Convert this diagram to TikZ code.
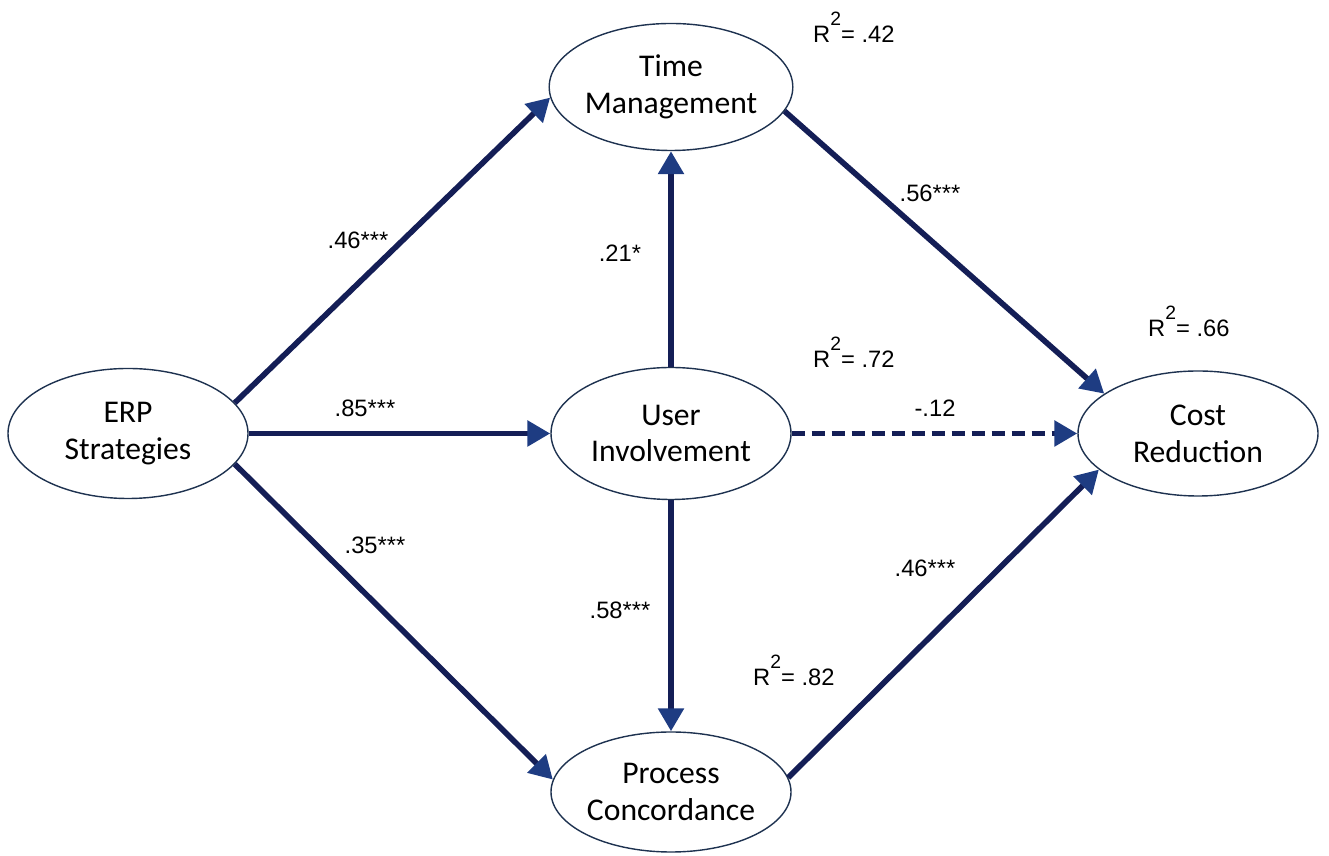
\documentclass[tikz,border=0pt]{standalone}
\usepackage{fontspec}
\setmainfont{Carlito}
\newfontfamily\etiq{Liberation Sans}
\usetikzlibrary{shapes.geometric,arrows.meta}

\definecolor{azul}{RGB}{20,30,86}
\definecolor{punta}{RGB}{30,60,130}
\definecolor{borde}{RGB}{30,50,80}

\newcommand{\Rdos}[1]{R\raisebox{0.72em}{\fontsize{11}{11}\selectfont 2}= #1}

\tikzstyle{constructo}= [ellipse,draw=borde,line width=0.8pt,minimum width=4.8cm,minimum height=2.6cm,inner sep=0pt,align=center,font=\fontsize{18}{21}\selectfont]
\tikzstyle{flecha}= [azul,line width=3.2pt,-{Triangle[length=0.46cm,width=0.5cm,color=punta]}]
\tikzstyle{coef}= [font=\etiq\fontsize{13.5}{16}\selectfont]

\begin{document}
\begin{tikzpicture}

		\useasboundingbox (0,0) rectangle (26.58,17.12);

		\node (a) at (2.56,8.45) [constructo] {ERP\\Strategies};
		\node (b) at (13.42,15.38) [constructo,minimum width=4.74cm,minimum height=2.54cm] {Time\\Management};
		\node (c) at (13.42,8.45) [constructo,minimum height=2.64cm] {User\\Involvement};
		\node (d) at (13.42,1.28) [constructo,minimum height=2.4cm] {Process\\Concordance};
		\node (e) at (23.96,8.45) [constructo,minimum height=2.5cm] {Cost\\Reduction};

		\node (r1) at (16.14,16.26) [coef,anchor=base west] {\Rdos{.42}};
		\node (r2) at (16.14,9.76) [coef,anchor=base west] {\Rdos{.72}};
		\node (r3) at (22.84,10.38) [coef,anchor=base west] {\Rdos{.66}};
		\node (r4) at (14.94,3.40) [coef,anchor=base west] {\Rdos{.82}};

		\node (ab) at (7.16,12.32) [coef] {.46***};
		\node (cb) at (12.40,12.06) [coef] {.21*};
		\node (be) at (18.60,13.26) [coef] {.56***};
		\node (ac) at (7.30,8.96) [coef] {.85***};
		\node (ce) at (18.70,8.96) [coef] {-.12};
		\node (ad) at (7.50,6.22) [coef] {.35***};
		\node (cd) at (12.40,4.92) [coef] {.58***};
		\node (de) at (18.50,5.76) [coef] {.46***};

		\path[flecha] (a.16) edge[] (b.185);
		\path[flecha] (a.east) edge[] (c.west);
		\path[flecha] (a.344) edge[] (d.174);

		\path[flecha] (c.north) edge[] (b.south);
		\path[flecha] (c.south) edge[] (d.north);
		\path[flecha,dash pattern=on 0.26cm off 0.14cm] (c.east) edge[] (e.west);

		\path[flecha] (b.348) edge[] (e.157);
		\path[flecha] (d.7) edge[] (e.200);

	\end{tikzpicture}
\end{document}
